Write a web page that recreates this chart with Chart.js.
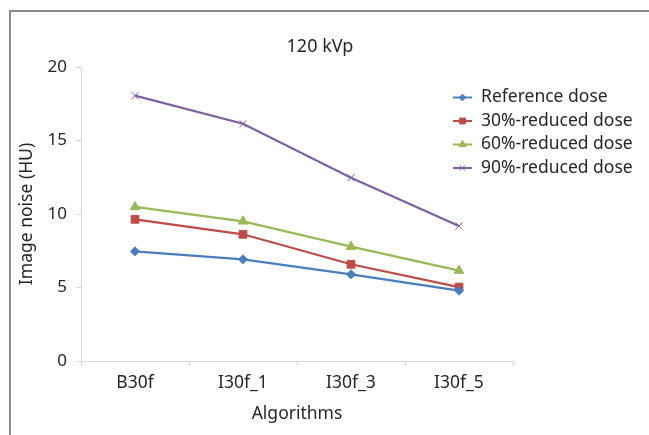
<!DOCTYPE html>
<html>
<head>
<meta charset="utf-8">
<script src="https://cdn.jsdelivr.net/npm/chart.js@4/dist/chart.umd.min.js"></script>
<style>
  html, body { margin: 0; padding: 0; background: #fff; }
  #wrap { position: relative; width: 649px; height: 435px; overflow: hidden; }
  #frame { position: absolute; left: 9px; top: 10px; width: 700px; height: 500px;
           border-left: 2px solid #8c8c8c; border-top: 2px solid #8c8c8c; }
  canvas { position: absolute; left: 0; top: 0; }
</style>
</head>
<body>
<div id="wrap">
  <div id="frame"></div>
  <canvas id="c" width="649" height="435"></canvas>
</div>
<script>
const chartTitle = '120 kVp';
const categories = ['B30f', 'I30f_1', 'I30f_3', 'I30f_5'];
const seriesNames = ['Reference dose', '30%-reduced dose', '60%-reduced dose', '90%-reduced dose'];
const referenceDose = [7.46, 6.92, 5.90, 4.78];
const reduced30 = [9.64, 8.62, 6.58, 5.03];
const reduced60 = [10.48, 9.50, 7.78, 6.15];
const reduced90 = [18.05, 16.14, 12.47, 9.18];
const yTicks = [0, 5, 10, 15, 20];
const yTitle = 'Image noise (HU)';
const xTitle = 'Algorithms';

const FONT = '"Noto Sans", sans-serif';
const TEXT = '#262626';
const AXIS = '#d9d9d9';

const styles = [
  { color: '#4a7ebb', pointStyle: 'rectRot', radius: 4.5 },
  { color: '#be4b48', pointStyle: 'rect', radius: 5.5 },
  { color: '#98b954', pointStyle: 'triangle', radius: 5.5 },
  { color: '#7d60a0', pointStyle: 'crossRot', radius: 5 }
];
const values = [referenceDose, reduced30, reduced60, reduced90];

const datasets = values.map((v, i) => ({
  label: seriesNames[i],
  data: v,
  borderColor: styles[i].color,
  backgroundColor: styles[i].color,
  pointBackgroundColor: styles[i].color,
  pointBorderColor: styles[i].color,
  pointStyle: styles[i].pointStyle,
  pointRadius: styles[i].radius,
  pointBorderWidth: 1,
  borderWidth: 2.25,
  tension: 0
}));

const overlay = {
  id: 'overlay',
  afterDraw(chart) {
    const ctx = chart.ctx;
    ctx.save();
    ctx.fillStyle = TEXT;
    ctx.font = '18px ' + FONT;
    ctx.textAlign = 'center';
    ctx.textBaseline = 'middle';
    ctx.fillText(chartTitle, 320, 47);
    ctx.font = '17.5px ' + FONT;
    ctx.textAlign = 'left';
    chart.data.datasets.forEach((ds, i) => {
      const y = 97.5 + i * 23.5;
      ctx.strokeStyle = ds.borderColor;
      ctx.lineWidth = 2;
      ctx.beginPath();
      ctx.moveTo(453, y);
      ctx.lineTo(472, y);
      ctx.stroke();
      ctx.fillStyle = ds.borderColor;
      ctx.lineWidth = 1;
      Chart.helpers.drawPoint(ctx, { pointStyle: ds.pointStyle, radius: ds.pointRadius * 0.75, rotation: 0, borderWidth: 1 }, 462.5, y);
      ctx.fillStyle = TEXT;
      ctx.fillText(ds.label, 481, y);
    });
    ctx.restore();
  }
};

new Chart(document.getElementById('c'), {
  type: 'line',
  data: { labels: categories, datasets },
  plugins: [overlay],
  options: {
    responsive: false,
    animation: false,
    layout: { padding: { left: 0, top: 67, right: 136, bottom: 0 } },
    plugins: { legend: { display: false }, title: { display: false }, tooltip: { enabled: false } },
    scales: {
      x: {
        offset: true,
        grid: { offset: true, drawOnChartArea: false, drawTicks: true, tickLength: 5, color: AXIS },
        border: { color: AXIS, width: 1 },
        ticks: { color: TEXT, font: { family: FONT, size: 17.5 }, padding: 7, maxRotation: 0 },
        title: { display: true, text: xTitle, color: TEXT, font: { family: FONT, size: 17.5 }, padding: { top: 0, bottom: 10 } },
        afterFit: s => { s.height = 74; }
      },
      y: {
        min: 0, max: 20,
        afterBuildTicks: s => { s.ticks = yTicks.map(v => ({ value: v })); },
        grid: { drawOnChartArea: false, drawTicks: true, tickLength: 5, color: AXIS },
        border: { color: AXIS, width: 1 },
        ticks: { color: TEXT, font: { family: FONT, size: 17 }, padding: 9 },
        title: { display: true, text: yTitle, color: TEXT, font: { family: FONT, size: 17.5 }, padding: { top: 17, bottom: 0 } },
        afterFit: s => { s.width = 81; }
      }
    }
  }
});
</script>
</body>
</html>
